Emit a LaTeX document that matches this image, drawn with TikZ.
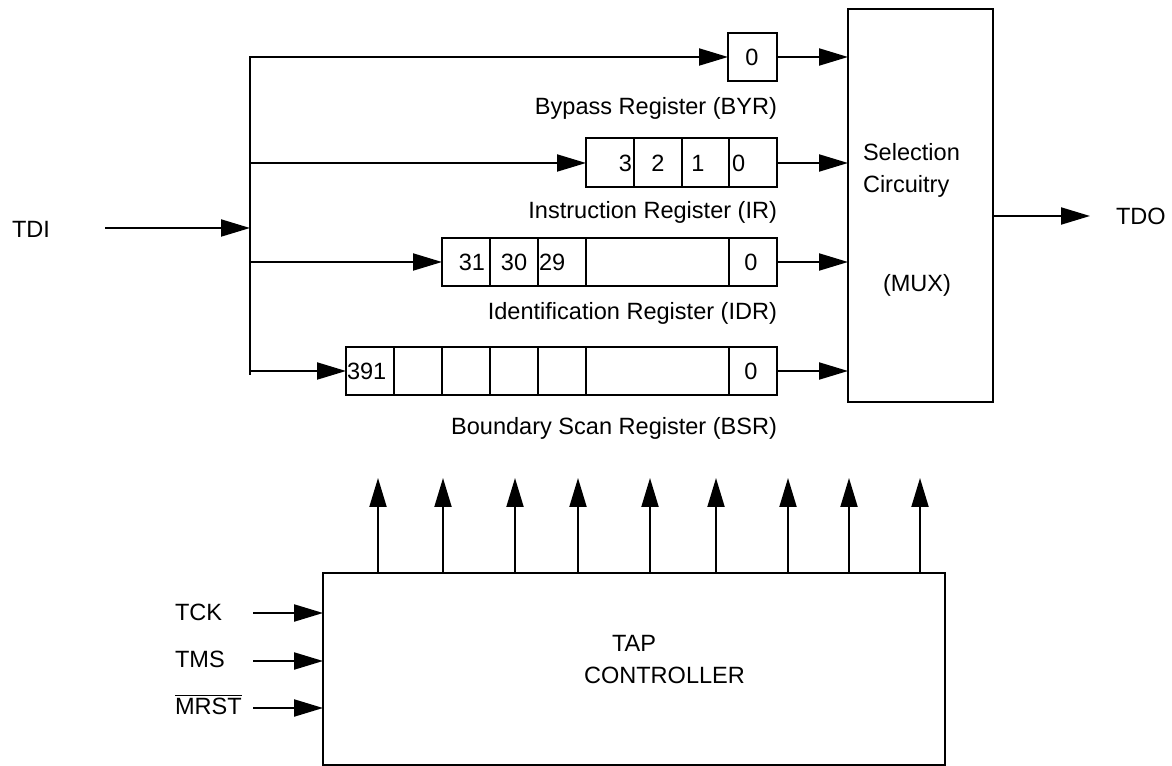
\documentclass[tikz,border=0pt]{standalone}
\usepackage{fontspec}
\setmainfont{Liberation Sans}
\usetikzlibrary{arrows.meta}
\newcommand\rcell[5]{\node[box, minimum width={(#3-#2)*0.02cm}, minimum height={#5*0.02cm}] (#1) at ({(#2+#3)/2},#4) {};}
\begin{document}
\begin{tikzpicture}[x=0.02cm,y=-0.02cm,
  every node/.style={font=\fontsize{13.4}{18}\selectfont, inner sep=0pt, outer sep=0pt},
  box/.style={draw, line width=0.04cm, inner sep=0pt, outer sep=0pt},
  wire/.style={line width=0.04cm},
  arr/.style={line width=0.04cm, -{Triangle[length=0.58cm,width=0.34cm]}}]
\useasboundingbox (0,0) rectangle (1172,766);

% registers
\rcell{byr}{728}{777}{57}{48}
\rcell{ir3}{586}{634}{163}{49}
\rcell{ir2}{634}{682}{163}{49}
\rcell{ir1}{682}{729}{163}{49}
\rcell{ir0}{729}{777}{163}{49}
\rcell{idr31}{442}{490}{262}{48}
\rcell{idr30}{490}{538}{262}{48}
\rcell{idr29}{538}{586}{262}{48}
\rcell{idrm}{586}{729}{262}{48}
\rcell{idr0}{729}{777}{262}{48}
\rcell{bsr391}{346}{394}{371}{48}
\rcell{bsra}{394}{442}{371}{48}
\rcell{bsrb}{442}{490}{371}{48}
\rcell{bsrc}{490}{538}{371}{48}
\rcell{bsrd}{538}{586}{371}{48}
\rcell{bsrm}{586}{729}{371}{48}
\rcell{bsr0}{729}{777}{371}{48}

% cell texts
\node[anchor=base] (tbyr) at (752,65.4) {0};
\node[anchor=base east] (tir3) at (632,171.4) {3};
\node[anchor=base] (tir2) at (658,171.4) {2};
\node[anchor=base] (tir1) at (698,171.4) {1};
\node[anchor=base west] (tir0) at (732,171.4) {0};
\node[anchor=base east] (tidr31) at (485,270.4) {31};
\node[anchor=base] (tidr30) at (514,270.4) {30};
\node[anchor=base west] (tidr29) at (539,270.4) {29};
\node[anchor=base] (tidr0) at (751,270.4) {0};
\node[anchor=base west] (tbsr391) at (347,379.4) {391};
\node[anchor=base] (tbsr0) at (751,379.4) {0};

% register labels
\node[anchor=base east] (lbyr) at (777,115) {Bypass Register (BYR)};
\node[anchor=base east] (lir) at (777,219) {Instruction Register (IR)};
\node[anchor=base east] (lidr) at (777,320) {Identification Register (IDR)};
\node[anchor=base east] (lbsr) at (777,435) {Boundary Scan Register (BSR)};

% selection circuitry
\node[box, minimum width=2.9cm, minimum height=7.86cm] (mux) at (920.5,205.5) {};
\node[anchor=base west] (sel1) at (863,161) {Selection};
\node[anchor=base west] (sel2) at (863,193) {Circuitry};
\node[anchor=base west] (sel3) at (883,292) {(MUX)};

% TDI bus
\coordinate (bustop) at (250,57);
\coordinate (busbot) at (250,375);
\coordinate (tdis) at (105,228);
\node[anchor=base west] (tdi) at (12,238) {TDI};
\draw[arr] (busbot) -- (bustop) -- (byr.west);
\draw[arr] (tdis) -- (tdis -| bustop);
\draw[arr] (ir3.west -| bustop) -- (ir3.west);
\draw[arr] (idr31.west -| bustop) -- (idr31.west);
\draw[arr] (bsr391.west -| bustop) -- (bsr391.west);

% outputs to mux
\draw[arr] (byr.east) -- (byr.east -| mux.west);
\draw[arr] (ir0.east) -- (ir0.east -| mux.west);
\draw[arr] (idr0.east) -- (idr0.east -| mux.west);
\draw[arr] (bsr0.east) -- (bsr0.east -| mux.west);

% TDO
\coordinate (tdoend) at (1090,216);
\draw[arr] (tdoend -| mux.east) -- (tdoend);
\node[anchor=base west] (tdo) at (1116,225) {TDO};

% TAP controller
\node[box, minimum width=12.44cm, minimum height=3.84cm] (tap) at (634,669) {};
\node[anchor=base west] (tap1) at (612,651) {TAP};
\node[anchor=base west] (tap2) at (584,683) {CONTROLLER};
\foreach \x [count=\i] in {378,443,515,578,650,716,788,849,920} {
  \coordinate (u\i) at (\x,478);
  \draw[arr] (u\i |- tap.north) -- (u\i);
}

% TAP inputs
\coordinate (tck) at (253,613);
\coordinate (tms) at (253,661);
\coordinate (mrst) at (253,708);
\draw[arr] (tck) -- (tck -| tap.west);
\draw[arr] (tms) -- (tms -| tap.west);
\draw[arr] (mrst) -- (mrst -| tap.west);
\node[anchor=base west] (ltck) at (175,620) {TCK};
\node[anchor=base west] (ltms) at (175,667) {TMS};
\node[anchor=base west] (lmrst) at (175,714) {$\overline{\mbox{MRST}}$};
\end{tikzpicture}
\end{document}
